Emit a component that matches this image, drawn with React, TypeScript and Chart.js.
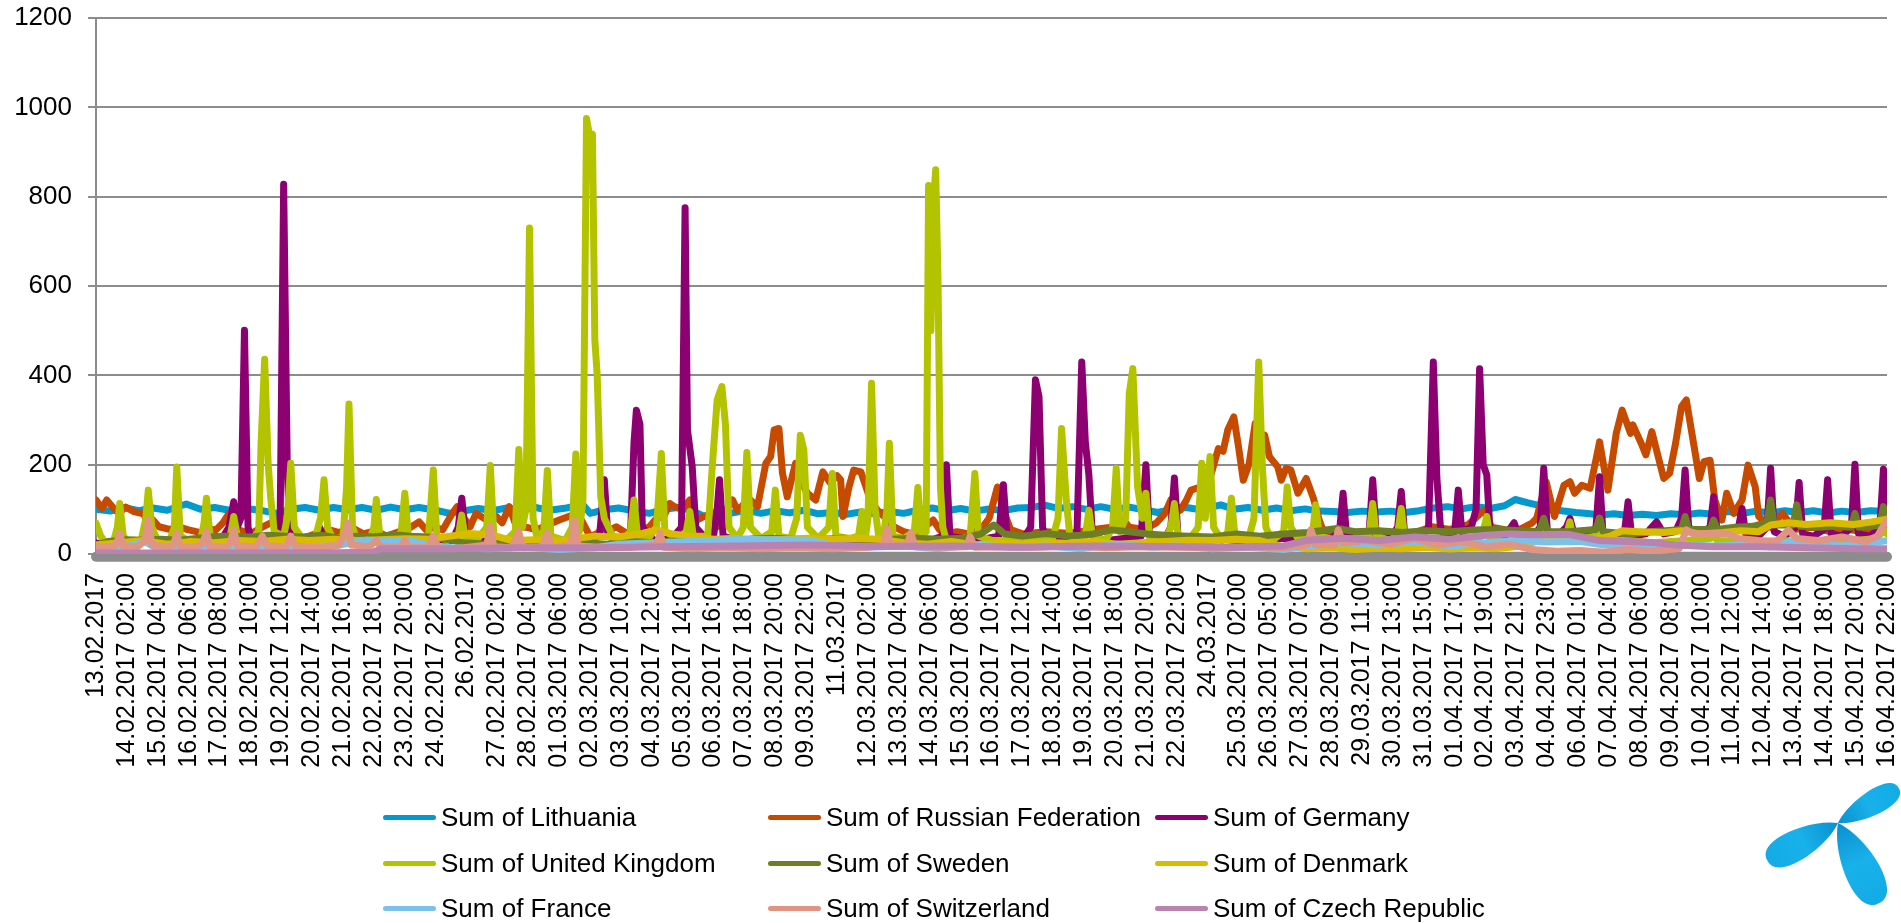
import React, { useEffect, useRef } from 'react';
import { Chart, registerables } from 'chart.js';

Chart.register(...registerables);

// ---------- tick labels (one every 26 hourly points) ----------
const tickLabels = [
  '13.02.2017', '14.02.2017 02:00', '15.02.2017 04:00', '16.02.2017 06:00', '17.02.2017 08:00',
  '18.02.2017 10:00', '19.02.2017 12:00', '20.02.2017 14:00', '21.02.2017 16:00', '22.02.2017 18:00',
  '23.02.2017 20:00', '24.02.2017 22:00', '26.02.2017', '27.02.2017 02:00', '28.02.2017 04:00',
  '01.03.2017 06:00', '02.03.2017 08:00', '03.03.2017 10:00', '04.03.2017 12:00', '05.03.2017 14:00',
  '06.03.2017 16:00', '07.03.2017 18:00', '08.03.2017 20:00', '09.03.2017 22:00', '11.03.2017',
  '12.03.2017 02:00', '13.03.2017 04:00', '14.03.2017 06:00', '15.03.2017 08:00', '16.03.2017 10:00',
  '17.03.2017 12:00', '18.03.2017 14:00', '19.03.2017 16:00', '20.03.2017 18:00', '21.03.2017 20:00',
  '22.03.2017 22:00', '24.03.2017', '25.03.2017 02:00', '26.03.2017 05:00', '27.03.2017 07:00',
  '28.03.2017 09:00', '29.03.2017 11:00', '30.03.2017 13:00', '31.03.2017 15:00', '01.04.2017 17:00',
  '02.04.2017 19:00', '03.04.2017 21:00', '04.04.2017 23:00', '06.04.2017 01:00', '07.04.2017 04:00',
  '08.04.2017 06:00', '09.04.2017 08:00', '10.04.2017 10:00', '11.04.2017 12:00', '12.04.2017 14:00',
  '13.04.2017 16:00', '14.04.2017 18:00', '15.04.2017 20:00', '16.04.2017 22:00',
];
const hoursPerTick = 26;
const lastHour = 1508;
const yTicks = [0, 200, 400, 600, 800, 1000, 1200];

// ---------- series: [hour index, value] ----------
const lithuania: [number, number][] = [
  [0,100],[12,96],[24,104],[36,97],[48,103],[60,98],[76,112],[88,100],[100,104],[112,98],[124,103],[140,97],[152,91],
  [164,100],[176,104],[188,98],[200,104],[212,99],[224,104],[236,98],[248,105],[260,99],[272,104],[286,98],[298,91],
  [310,97],[322,102],[334,97],[346,103],[358,98],[370,104],[382,98],[396,103],[410,110],[416,91],[428,99],[440,103],
  [452,97],[466,91],[478,100],[490,104],[502,97],[512,84],[524,96],[536,92],[548,98],[560,91],[572,97],[584,92],
  [596,98],[608,90],[620,93],[632,89],[644,94],[656,90],[668,95],[680,91],[692,98],[704,103],[716,97],[728,102],
  [740,96],[752,101],[764,97],[776,103],[788,104],[798,110],[810,102],[822,106],[834,100],[846,106],[858,100],
  [870,105],[882,99],[894,93],[906,100],[918,104],[930,99],[947,110],[958,100],[970,104],[982,98],[994,103],
  [1006,97],[1018,101],[1030,96],[1042,95],[1054,93],[1066,96],[1078,94],[1090,96],[1102,93],[1114,97],[1126,103],
  [1138,106],[1150,101],[1162,106],[1174,102],[1186,108],[1195,122],[1205,115],[1213,110],[1222,100],[1234,97],
  [1246,93],[1258,90],[1266,87],[1278,90],[1290,86],[1302,89],[1314,86],[1326,90],[1338,88],[1350,92],[1362,89],
  [1374,95],[1386,91],[1398,96],[1410,92],[1422,97],[1434,93],[1446,97],[1458,92],[1470,96],[1482,93],[1494,97],
  [1508,95],
];

const russia: [number, number][] = [
  [0,121],[5,102],[9,121],[15,102],[19,91],[25,105],[32,95],[40,90],[44,70],[48,76],[53,61],[62,55],[70,60],[78,54],
  [88,48],[95,56],[101,54],[107,70],[112,91],[116,70],[120,54],[130,45],[140,60],[152,76],[160,50],[174,35],[185,45],
  [195,55],[205,48],[215,60],[225,45],[235,52],[245,40],[255,50],[265,60],[272,72],[278,54],[285,60],[292,54],
  [300,91],[304,106],[310,80],[315,61],[320,91],[329,76],[337,84],[342,70],[348,106],[354,61],[362,60],[371,54],
  [380,65],[390,76],[398,84],[405,91],[410,70],[416,39],[422,46],[428,60],[433,54],[438,61],[447,46],[455,46],
  [460,55],[466,61],[472,80],[478,84],[483,113],[487,106],[494,100],[500,121],[506,76],[512,84],[518,91],[523,61],
  [531,100],[536,121],[540,98],[545,110],[551,121],[557,106],[564,203],[568,218],[571,278],[575,281],[578,181],
  [582,128],[589,203],[593,166],[599,136],[606,121],[612,184],[618,160],[624,175],[627,166],[629,84],[634,150],
  [638,188],[644,184],[652,121],[658,98],[665,80],[672,61],[680,50],[686,46],[695,55],[705,76],[710,55],[714,46],
  [725,50],[735,45],[745,55],[752,80],[759,150],[765,91],[770,55],[780,45],[800,50],[820,46],[840,55],[855,60],
  [863,83],[870,60],[883,55],[893,70],[900,91],[905,121],[913,98],[918,120],[922,143],[930,150],[938,170],[945,236],
  [949,230],[953,278],[958,307],[962,240],[966,165],[971,203],[976,292],[980,260],[984,266],[988,218],[995,195],
  [998,165],[1002,192],[1006,188],[1012,136],[1019,169],[1025,125],[1030,76],[1034,46],[1045,50],[1055,45],
  [1070,50],[1085,40],[1100,45],[1113,50],[1125,61],[1140,55],[1155,65],[1169,98],[1175,60],[1185,55],[1195,50],
  [1203,61],[1209,69],[1213,80],[1221,162],[1228,84],[1236,154],[1241,162],[1245,136],[1251,154],[1258,147],
  [1266,251],[1273,143],[1280,270],[1285,322],[1292,270],[1294,289],[1301,248],[1305,222],[1310,274],[1320,169],
  [1325,181],[1330,248],[1335,330],[1339,345],[1347,218],[1350,169],[1354,207],[1359,210],[1363,121],[1369,76],
  [1373,136],[1379,91],[1386,121],[1391,199],[1397,151],[1400,84],[1410,60],[1420,91],[1430,55],[1445,60],
  [1460,50],[1475,55],[1490,50],[1508,55],
];

const germany: [number, number][] = [
  [0,25],[10,20],[30,30],[50,25],[70,30],[90,22],[105,30],[112,60],[116,117],[119,60],[122,80],[125,501],[128,60],
  [131,30],[140,25],[150,30],[155,60],[158,828],[161,200],[163,40],[170,30],[180,25],[185,40],[188,61],[191,35],
  [200,25],[220,30],[240,28],[255,35],[258,54],[261,30],[280,28],[300,30],[305,60],[308,125],[311,40],[320,28],
  [340,30],[360,25],[380,30],[400,25],[415,30],[424,40],[428,166],[431,40],[440,30],[450,40],[453,250],[455,322],
  [458,290],[460,60],[470,30],[485,35],[493,60],[496,775],[498,278],[502,196],[505,60],[515,30],[520,40],[523,100],
  [525,166],[528,40],[540,30],[560,35],[580,30],[600,28],[620,25],[640,30],[660,25],[680,30],[700,28],[713,40],
  [716,200],[719,40],[740,30],[760,40],[764,155],[767,40],[780,30],[787,60],[791,390],[794,352],[797,60],[800,30],
  [815,35],[826,50],[830,430],[833,250],[836,177],[839,40],[850,30],[865,35],[880,40],[884,200],[887,40],[900,35],
  [905,60],[908,170],[911,40],[925,30],[940,35],[960,30],[980,30],[1000,35],[1020,30],[1040,35],[1047,50],
  [1050,136],[1053,40],[1065,35],[1072,50],[1075,166],[1078,40],[1090,35],[1096,60],[1099,140],[1102,40],
  [1115,35],[1122,60],[1126,430],[1129,170],[1132,60],[1135,40],[1144,50],[1147,143],[1150,50],[1158,60],
  [1162,100],[1165,415],[1168,200],[1171,177],[1174,40],[1185,35],[1194,70],[1198,40],[1210,40],[1216,60],
  [1219,192],[1222,50],[1230,40],[1238,60],[1241,80],[1245,40],[1256,40],[1263,60],[1266,173],[1269,40],
  [1280,40],[1287,50],[1290,117],[1293,40],[1305,45],[1314,72],[1320,45],[1330,50],[1335,80],[1338,188],
  [1341,60],[1350,45],[1359,60],[1362,128],[1365,50],[1375,45],[1383,60],[1386,102],[1389,45],[1400,40],
  [1407,60],[1410,192],[1413,50],[1422,40],[1431,60],[1434,160],[1437,45],[1446,40],[1455,55],[1458,166],
  [1461,45],[1470,40],[1478,60],[1481,201],[1484,45],[1494,40],[1502,60],[1505,190],[1508,60],
];

const unitedKingdom: [number, number][] = [
  [0,69],[4,40],[8,25],[15,30],[18,60],[20,113],[23,40],[28,25],[38,30],[42,80],[44,143],[47,60],[52,30],[62,30],
  [66,60],[68,195],[71,40],[78,30],[88,30],[91,70],[93,125],[96,40],[105,30],[113,40],[116,84],[119,40],[130,30],
  [137,50],[139,248],[142,436],[145,200],[147,128],[150,50],[158,40],[161,80],[164,203],[167,60],[175,30],[185,40],
  [189,80],[192,166],[195,60],[200,30],[208,40],[211,150],[213,336],[216,60],[220,30],[230,30],[234,60],[236,122],
  [239,40],[250,30],[257,50],[260,136],[263,40],[270,30],[280,40],[284,188],[287,40],[296,30],[305,40],[308,87],
  [311,30],[320,30],[329,60],[332,198],[335,40],[345,30],[353,50],[356,234],[359,60],[362,100],[365,730],[368,80],
  [371,40],[377,50],[380,187],[383,40],[395,30],[401,60],[404,224],[407,50],[410,120],[413,975],[416,930],
  [418,940],[420,480],[422,400],[425,128],[428,80],[435,40],[445,35],[450,50],[453,121],[456,40],[465,35],
  [472,60],[476,225],[479,50],[490,35],[497,50],[500,95],[503,40],[515,40],[519,200],[523,345],[527,375],
  [530,289],[533,60],[540,35],[545,60],[548,227],[551,60],[560,35],[569,50],[572,143],[575,40],[585,35],[590,80],
  [593,266],[596,233],[599,60],[608,35],[617,60],[620,180],[623,40],[635,35],[642,40],[645,95],[648,40],[650,80],
  [653,382],[656,100],[659,40],[663,40],[666,100],[668,248],[671,40],[680,35],[689,50],[692,149],[695,40],
  [699,50],[701,825],[703,500],[705,780],[707,860],[709,610],[711,150],[713,60],[716,30],[725,30],[736,40],
  [740,180],[743,40],[755,30],[770,30],[790,30],[805,30],[810,80],[813,281],[817,120],[820,40],[833,40],[836,98],
  [839,40],[850,30],[856,60],[859,192],[862,50],[867,80],[870,360],[873,415],[877,150],[881,80],[884,136],
  [887,40],[900,30],[905,60],[908,113],[911,40],[920,30],[928,60],[931,203],[934,80],[936,150],[938,218],[941,60],
  [948,30],[953,50],[956,125],[959,40],[970,30],[975,80],[979,430],[982,200],[985,60],[990,30],[1000,50],
  [1003,150],[1006,60],[1012,35],[1024,40],[1027,110],[1030,40],[1045,30],[1060,35],[1072,45],[1075,113],
  [1078,40],[1090,30],[1096,45],[1099,102],[1102,35],[1115,30],[1130,30],[1150,25],[1167,40],[1171,84],[1174,30],
  [1190,25],[1210,30],[1220,30],[1238,40],[1241,72],[1244,30],[1262,40],[1266,80],[1270,30],[1290,30],[1310,25],
  [1340,30],[1360,35],[1362,54],[1365,30],[1390,25],[1420,30],[1450,25],[1480,30],[1500,35],[1505,54],[1508,45],
];

const sweden: [number, number][] = [
  [0,20],[10,28],[25,32],[40,31],[55,33],[70,31],[85,35],[100,39],[115,40],[130,38],[145,42],[160,40],[175,38],
  [190,42],[205,35],[220,40],[235,38],[250,43],[265,40],[280,38],[295,33],[310,25],[330,22],[350,28],[370,25],
  [390,28],[410,25],[430,22],[450,28],[470,25],[490,30],[510,28],[530,30],[550,33],[570,35],[590,33],[610,33],
  [630,35],[650,31],[670,33],[690,35],[710,33],[730,35],[745,45],[756,65],[765,45],[780,40],[800,46],[820,40],
  [840,45],[855,54],[870,50],[885,45],[900,42],[920,40],[940,38],[960,45],[980,40],[1000,45],[1020,48],[1045,57],
  [1060,50],[1080,52],[1100,48],[1120,52],[1140,50],[1160,54],[1180,55],[1200,52],[1215,50],[1219,80],[1222,50],
  [1240,50],[1263,55],[1266,80],[1269,50],[1290,45],[1310,50],[1335,55],[1338,84],[1341,55],[1359,55],[1362,76],
  [1365,55],[1380,60],[1395,62],[1407,70],[1410,121],[1413,65],[1429,65],[1432,110],[1435,62],[1450,60],
  [1465,62],[1478,60],[1481,91],[1484,60],[1495,62],[1502,65],[1505,106],[1508,70],
];

const denmark: [number, number][] = [
  [0,20],[20,25],[40,30],[60,22],[80,28],[100,25],[120,30],[140,28],[160,33],[180,30],[200,33],[220,30],[240,32],
  [260,34],[280,33],[298,40],[315,46],[334,42],[350,30],[370,32],[390,28],[405,35],[420,40],[440,38],[460,46],
  [472,54],[485,45],[500,40],[520,33],[540,35],[560,30],[580,33],[600,35],[620,33],[640,35],[660,33],[680,25],
  [700,22],[720,28],[740,20],[760,25],[780,22],[800,26],[820,24],[840,28],[860,22],[880,25],[900,28],[920,31],
  [940,30],[960,33],[980,30],[1000,16],[1020,12],[1040,14],[1060,10],[1080,13],[1100,12],[1120,15],[1140,11],
  [1160,14],[1180,12],[1200,18],[1215,30],[1240,28],[1260,31],[1275,40],[1285,52],[1300,50],[1320,48],[1335,52],
  [1350,45],[1370,48],[1385,52],[1400,50],[1410,65],[1425,70],[1440,66],[1460,70],[1480,66],[1495,72],[1508,78],
];

const france: [number, number][] = [
  [0,12],[20,14],[42,27],[50,14],[80,12],[110,15],[140,13],[170,16],[200,18],[228,31],[245,28],[265,30],[280,20],
  [300,14],[330,12],[360,15],[390,10],[420,14],[440,22],[470,25],[500,28],[520,30],[545,33],[570,32],[600,31],
  [620,20],[650,15],[680,18],[710,12],[740,20],[770,15],[800,18],[830,12],[860,22],[890,15],[910,18],[940,12],
  [970,15],[1000,10],[1020,18],[1050,25],[1080,20],[1110,28],[1140,18],[1170,25],[1200,30],[1220,27],[1250,28],
  [1270,20],[1300,18],[1330,22],[1360,18],[1390,20],[1410,16],[1430,31],[1450,22],[1470,18],[1490,24],[1508,30],
];

const switzerland: [number, number][] = [
  [0,16],[10,16],[17,20],[20,46],[23,18],[35,16],[41,30],[44,76],[47,20],[60,16],[65,20],[68,46],[71,16],[85,15],
  [90,25],[93,50],[96,16],[110,15],[113,25],[116,54],[119,18],[135,16],[140,40],[144,18],[160,16],[164,40],
  [168,16],[190,15],[205,20],[210,50],[212,69],[215,20],[230,16],[236,30],[240,16],[256,15],[260,30],[264,14],
  [280,15],[284,40],[288,14],[300,12],[310,14],[329,20],[332,61],[335,16],[350,14],[356,50],[359,14],[375,15],
  [380,46],[384,14],[400,20],[403,76],[406,18],[430,14],[450,15],[472,20],[475,46],[478,15],[500,12],[530,14],
  [560,12],[590,14],[620,12],[650,15],[663,20],[666,57],[669,20],[683,20],[686,46],[690,16],[710,15],[733,16],
  [736,39],[740,15],[760,16],[790,15],[820,18],[850,14],[880,16],[910,15],[940,14],[970,16],[1000,14],[1020,20],
  [1023,54],[1027,20],[1043,20],[1046,54],[1050,25],[1070,30],[1090,22],[1110,35],[1130,20],[1150,28],[1170,16],
  [1190,22],[1209,10],[1230,6],[1250,8],[1270,4],[1290,10],[1310,6],[1333,12],[1339,54],[1345,45],[1360,46],
  [1375,44],[1383,35],[1400,30],[1415,28],[1425,54],[1432,35],[1450,30],[1470,38],[1490,28],[1500,40],[1508,76],
];

const czechRepublic: [number, number][] = [
  [0,2],[100,2],[200,3],[233,4],[240,12],[300,12],[360,14],[420,14],[480,16],[540,18],[600,20],[660,17],[720,18],
  [780,15],[840,18],[900,17],[960,15],[1000,18],[1020,31],[1050,35],[1080,30],[1110,38],[1140,33],[1170,42],
  [1190,45],[1210,43],[1240,44],[1266,30],[1290,28],[1310,26],[1330,20],[1360,16],[1400,16],[1440,14],[1480,12],
  [1508,12],
];

// unlabelled grey series lying along the bottom of the plot
const otherBaseline: [number, number][] = [[0, -6], [1508, -6]];

const seriesNames = [
  'Sum of Lithuania', 'Sum of Russian Federation', 'Sum of Germany',
  'Sum of United Kingdom', 'Sum of Sweden', 'Sum of Denmark',
  'Sum of France', 'Sum of Switzerland', 'Sum of Czech Republic',
];
const seriesData = [lithuania, russia, germany, unitedKingdom, sweden, denmark, france, switzerland, czechRepublic];
const seriesColors = [
  '#0399CF', '#C64A00', '#8C0072',
  '#B4C300', '#6D7E26', '#D9BC00',
  '#7DC1EA', '#E09484', '#BA82AE',
];

const FONT = "'Liberation Sans', Arial, Helvetica, sans-serif";
const LINE_W = 7;

function Logo() {
  const lobe = (L: number, W: number) =>
    `M0,0 C${L * 0.3},${-W * 0.9} ${L * 1.02},${-W * 1.15} ${L},0 C${L * 1.02},${W * 1.15} ${L * 0.3},${W * 0.9} 0,0 Z`;
  return (
    <svg width={1901} height={923} style={{ position: 'absolute', left: 0, top: 0, pointerEvents: 'none' }}>
      <defs>
        <linearGradient id="tg" x1="0" y1="0" x2="1" y2="0">
          <stop offset="0" stopColor="#0A8FD0" />
          <stop offset="0.5" stopColor="#19B1EA" />
          <stop offset="1" stopColor="#12ABE6" />
        </linearGradient>
      </defs>
      <g transform="translate(1838,823)">
        <path d={lobe(70, 16)} fill="url(#tg)" transform="rotate(-30)" />
        <path d={lobe(80, 20)} fill="url(#tg)" transform="rotate(152)" />
        <path d={lobe(90, 23)} fill="url(#tg)" transform="rotate(63)" />
      </g>
    </svg>
  );
}

export default function App() {
  const canvasRef = useRef<HTMLCanvasElement | null>(null);

  useEffect(() => {
    const canvas = canvasRef.current;
    if (!canvas) return;
    const order = [8, 7, 6, 5, 4, 3, 2, 1, 0];
    const datasets: any[] = order.map((i) => ({
      label: seriesNames[i],
      data: seriesData[i].map(([x, y]) => ({ x, y })),
      borderColor: seriesColors[i],
      backgroundColor: seriesColors[i],
      borderWidth: LINE_W,
      pointRadius: 0,
      tension: 0,
      fill: false,
      borderJoinStyle: 'round',
      borderCapStyle: 'round',
    }));
    datasets.push({
      label: '',
      data: otherBaseline.map(([x, y]) => ({ x, y })),
      borderColor: '#8C8C8C',
      backgroundColor: '#8C8C8C',
      borderWidth: 10,
      pointRadius: 0,
      fill: false,
      clip: 12,
    });

    const zeroPad = (s: any) => {
      s.paddingTop = 0;
      s.paddingBottom = 0;
      s.paddingLeft = 0;
      s.paddingRight = 0;
    };

    const chart = new Chart(canvas, {
      type: 'line',
      data: { datasets },
      options: {
        animation: false,
        responsive: false,
        maintainAspectRatio: false,
        devicePixelRatio: 1,
        layout: { padding: { top: 18, right: 14, left: 0, bottom: 0 } },
        plugins: { legend: { display: false }, tooltip: { enabled: false } },
        elements: {
          point: { radius: 0 },
          line: { borderWidth: LINE_W, borderJoinStyle: 'round', borderCapStyle: 'round' },
        },
        scales: {
          x: {
            type: 'linear',
            min: 0,
            max: lastHour,
            afterBuildTicks: (s: any) => {
              s.ticks = tickLabels.map((_, i) => ({ value: i * hoursPerTick }));
            },
            afterFit: (s: any) => {
              s.height = 369;
              zeroPad(s);
            },
            ticks: {
              autoSkip: false,
              maxRotation: 90,
              minRotation: 90,
              padding: 19,
              color: '#000',
              font: { family: FONT, size: 25 },
              callback: (_v: any, idx: number) => tickLabels[idx],
            },
            grid: { display: false, drawTicks: false },
            border: { display: true, color: '#8C8C8C', width: 2 },
          },
          y: {
            min: 0,
            max: 1200,
            afterBuildTicks: (s: any) => {
              s.ticks = yTicks.map((v) => ({ value: v }));
            },
            afterFit: (s: any) => {
              s.width = 96;
              zeroPad(s);
            },
            ticks: {
              padding: 16,
              color: '#000',
              font: { family: FONT, size: 26 },
              callback: (v: any) => String(v),
            },
            grid: { color: '#8C8C8C', lineWidth: 2, tickLength: 8 },
            border: { color: '#8C8C8C', width: 2 },
          },
        },
      } as any,
    });
    return () => chart.destroy();
  }, []);

  const colX = [383, 768, 1155];
  const rowY = [817, 863, 908];

  return (
    <div style={{ position: 'absolute', left: 0, top: 0, width: 1901, height: 923, background: '#fff', overflow: 'hidden' }}>
      <canvas ref={canvasRef} width={1901} height={923} style={{ position: 'absolute', left: 0, top: 0, width: 1901, height: 923 }} />
      {seriesNames.map((name, i) => {
        const c = i % 3;
        const r = Math.floor(i / 3);
        return (
          <div
            key={name}
            style={{
              position: 'absolute',
              left: colX[c],
              top: rowY[r] - 16,
              height: 32,
              display: 'flex',
              alignItems: 'center',
              fontFamily: FONT,
              fontSize: 26,
              color: '#000',
              whiteSpace: 'nowrap',
            }}
          >
            <span style={{ display: 'inline-block', width: 53, height: 5, borderRadius: 3, background: seriesColors[i], marginRight: 5 }} />
            <span>{name}</span>
          </div>
        );
      })}
      <Logo />
    </div>
  );
}
